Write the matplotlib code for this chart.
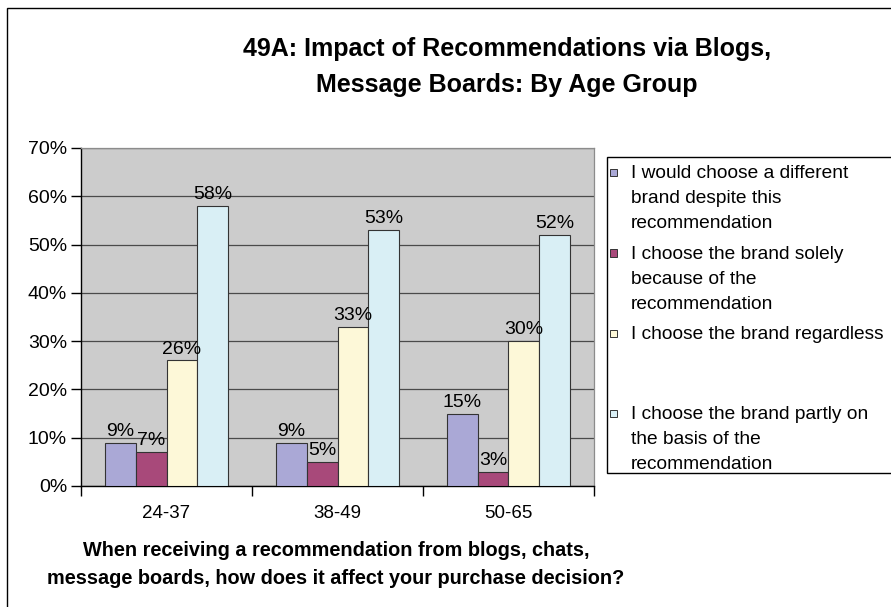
import matplotlib
matplotlib.use("Agg")
import matplotlib.pyplot as plt
import numpy as np
from matplotlib.patches import Rectangle
from matplotlib.ticker import FixedLocator, PercentFormatter

age_groups = ["24-37", "38-49", "50-65"]
series_labels = [
    "I would choose a different\nbrand despite this\nrecommendation",
    "I choose the brand solely\nbecause of the\nrecommendation",
    "I choose the brand regardless",
    "I choose the brand partly on\nthe basis of the\nrecommendation",
]
different_brand = [9, 9, 15]
solely_because = [7, 5, 3]
regardless = [26, 33, 30]
partly_on_basis = [58, 53, 52]
series_values = [different_brand, solely_because, regardless, partly_on_basis]
series_colors = ["#aaa8d6", "#a8497a", "#fdf8d8", "#d9eff5"]

title = "49A: Impact of Recommendations via Blogs,\nMessage Boards: By Age Group"
xlabel = ("When receiving a recommendation from blogs, chats,\n"
          "message boards, how does it affect your purchase decision?")

plt.rcParams["font.family"] = ["Liberation Sans", "DejaVu Sans"]

W, H = 891, 607
fig = plt.figure(figsize=(W / 100, H / 100), dpi=100)
fig.patch.set_facecolor("white")


def px(x, y):
    """Convert pixel coordinates (origin top-left) into figure fractions."""
    return x / W, 1 - y / H


# outer chart frame, running off the right and bottom edges
fx, fy = px(7, 8)
fig.patches.append(Rectangle((fx, -0.2), 1.5, fy + 0.2, transform=fig.transFigure,
                             facecolor="none", edgecolor="#000000", linewidth=1.0))

left, top = px(81, 148)
right, bottom = px(594, 486)
ax = fig.add_axes([left, bottom, right - left, top - bottom])
ax.set_facecolor("#cccccc")

x = np.arange(len(age_groups))
width = 0.18
for i, (values, color) in enumerate(zip(series_values, series_colors)):
    vals = np.array(values) / 100
    bars = ax.bar(x + (i - 1.5) * width, vals, width, color=color,
                  edgecolor="#333333", linewidth=0.8, zorder=3)
    for bar, v in zip(bars, values):
        ax.annotate(f"{v}%", (bar.get_x() + bar.get_width() / 2, bar.get_height()),
                    xytext=(0, 2), textcoords="offset points",
                    ha="center", va="bottom", fontsize=14, color="#000000", zorder=4)

ax.set_xlim(-0.5, len(age_groups) - 0.5)
ax.set_ylim(0, 0.7)
ax.yaxis.set_major_locator(FixedLocator(np.arange(0, 0.71, 0.1)))
ax.yaxis.set_major_formatter(PercentFormatter(1.0, decimals=0))
ax.grid(axis="y", color="#4a4a4a", linewidth=0.9, zorder=1)
ax.set_axisbelow(True)

ax.set_xticks(x)
ax.set_xticklabels(age_groups)
ax.set_xticks(np.arange(-0.5, len(age_groups)), minor=True)
ax.tick_params(axis="x", which="major", length=0, pad=14, labelsize=13.5)
ax.tick_params(axis="x", which="minor", length=7, width=1, color="#000000", direction="out")
ax.tick_params(axis="y", length=7, width=1, color="#000000", labelsize=14, pad=3)

for side in ("left", "bottom"):
    ax.spines[side].set_color("#000000")
    ax.spines[side].set_linewidth(1.0)
for side in ("top", "right"):
    ax.spines[side].set_color("#8c8c8c")
    ax.spines[side].set_linewidth(0.9)

# title and axis caption
tx, ty = px(507, 67)
fig.text(tx, ty, title, ha="center", va="center", fontsize=18, fontweight="bold",
         linespacing=1.65)
cx, cy = px(336, 564)
fig.text(cx, cy, xlabel, ha="center", va="center", fontsize=14.3, fontweight="bold",
         linespacing=1.6)

# legend box with entries spaced evenly
lx, ly_top = px(607, 157)
_, ly_bot = px(607, 473)
fig.patches.append(Rectangle((lx, ly_bot), 1.0, ly_top - ly_bot, transform=fig.transFigure,
                             facecolor="white", edgecolor="#000000", linewidth=1.0))
first_line_y = [172, 253, 333, 413]
for label, color, yc in zip(series_labels, series_colors, first_line_y):
    sx, sy = px(610, yc + 3.5)
    fig.patches.append(Rectangle((sx, sy), 7 / W, 7 / H, transform=fig.transFigure,
                                 facecolor=color, edgecolor="#333333", linewidth=0.7))
    tx2, ty2 = px(631, yc - 7)
    fig.text(tx2, ty2, label, ha="left", va="top", fontsize=13.8, linespacing=1.62)

fig.savefig("out.png", dpi=100)
